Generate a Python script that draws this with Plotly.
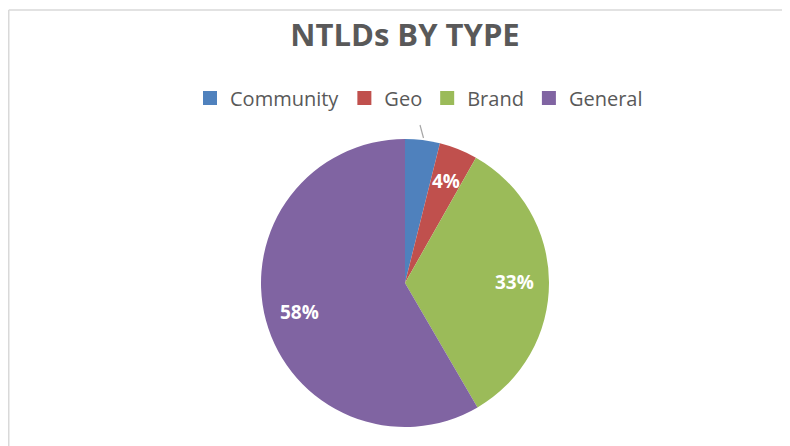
import math
import plotly.graph_objects as go

categories = ["Community", "Geo", "Brand", "General"]
values = [3.9, 4.3, 33.4, 58.4]
colors = ["#4F81BD", "#C0504D", "#9BBB59", "#8064A2"]
show_label = [False, True, True, True]

W, H = 790, 446
OFF = 8  # page body offset
cx, cy, r = 405 - OFF, 283 - OFF, 144

fig = go.Figure(go.Pie(
    labels=categories,
    values=values,
    marker=dict(colors=colors, line=dict(width=0)),
    sort=False,
    direction="clockwise",
    rotation=0,
    textinfo="none",
    hoverinfo="label+percent",
    showlegend=False,
    domain=dict(x=[(cx - r) / W, (cx + r) / W], y=[(H - cy - r) / H, (H - cy + r) / H]),
))

# legend entries with square swatches (same categories / colours)
for cat, col in zip(categories, colors):
    fig.add_trace(go.Scatter(
        x=[None], y=[None], mode="markers", name=cat,
        marker=dict(symbol="square", size=14, color=col),
        showlegend=True, hoverinfo="skip",
    ))

# data labels placed at the slice mid-angles, computed from the values
total = sum(values)
annotations = []
cum = 0.0
for cat, v, s in zip(categories, values, show_label):
    mid = (cum + v / 2) / total * 2 * math.pi
    cum += v
    if not s:
        continue
    px = cx + 0.76 * r * math.sin(mid)
    py = cy - 0.76 * r * math.cos(mid)
    annotations.append(dict(
        x=px / W, y=1 - py / H, xref="paper", yref="paper", showarrow=False,
        text="<b>%d%%</b>" % round(v / total * 100),
        font=dict(family="Open Sans", size=19, color="white"),
        xanchor="center", yanchor="middle",
    ))

fig.update_layout(
    width=W, height=H,
    margin=dict(l=0, r=0, t=0, b=0),
    paper_bgcolor="white",
    plot_bgcolor="rgba(0,0,0,0)",
    xaxis=dict(visible=False),
    yaxis=dict(visible=False),
    title=dict(text="<b>NTLDs BY TYPE</b>", x=(405 - OFF) / W, xanchor="center",
               y=1 - (35 - OFF) / H, yanchor="middle",
               font=dict(family="Open Sans", size=31, color="#595959")),
    legend=dict(orientation="h", x=(419 - OFF) / W, xanchor="center", y=1 - (98 - OFF) / H, yanchor="middle",
                font=dict(family="Open Sans", size=20, color="#595959"), itemwidth=30,
                traceorder="normal"),
    annotations=annotations,
    shapes=[
        dict(type="line", xref="paper", yref="paper", x0=0.75 / W, x1=1, y0=1 - 2 / H, y1=1 - 2 / H,
             line=dict(color="#D9D9D9", width=1.5)),
        dict(type="line", xref="paper", yref="paper", x0=0.75 / W, x1=0.75 / W, y0=0, y1=1 - 2 / H,
             line=dict(color="#D9D9D9", width=1.5)),
        dict(type="line", xref="paper", yref="paper", x0=(420 - OFF) / W, x1=(423.5 - OFF) / W,
             y0=1 - (125 - OFF) / H, y1=1 - (138 - OFF) / H,
             line=dict(color="#A6A6A6", width=1.2)),
    ],
)

fig.write_html("out.html")
